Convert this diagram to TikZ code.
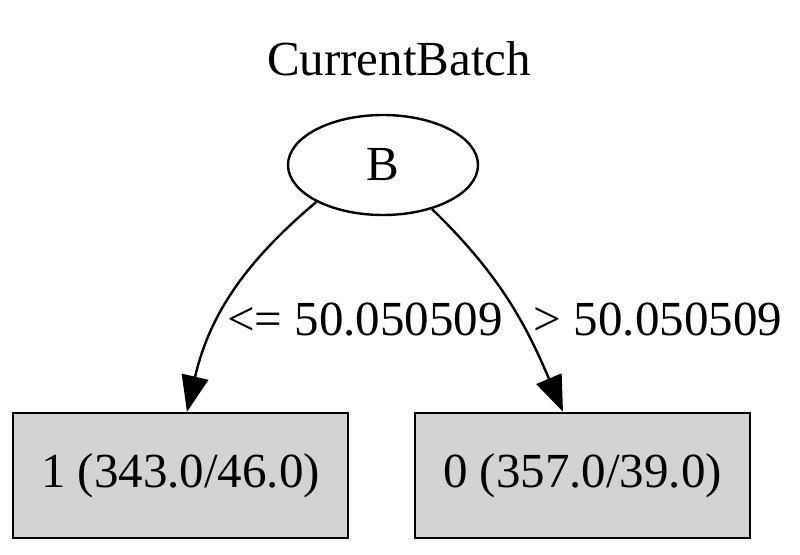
\documentclass[tikz,border=0pt]{standalone}
\usepackage{fontspec}
\setmainfont{Liberation Serif}
\usepackage{xcolor}
\usepackage{tikz}
\usetikzlibrary{shapes,arrows,positioning,calc,arrows.meta}
\definecolor{leafgray}{RGB}{211,211,211}

\begin{document}
\begin{tikzpicture}[x=0.5pt,y=0.5pt,
    treetext/.style={font=\fontsize{24.5}{28}\selectfont},
    splitnode/.style={treetext, draw, line width=1.2pt, ellipse, minimum width=95pt, minimum height=50pt, inner sep=0pt},
    leafnode/.style={treetext, draw, line width=1.2pt, fill=leafgray, rectangle, minimum width=167.5pt, minimum height=62.5pt, inner sep=0pt},
    branch/.style={line width=1.2pt, -{Triangle[length=18pt,width=13.5pt]}}]
    \useasboundingbox (0,0) rectangle (800,554);
    % Title
    \node[treetext, anchor=base] (title) at (399,479) {CurrentBatch};
    % Split and leaves
    \node[splitnode] (B) at (383,389) {B};
    \node[leafnode] (leafL) at (180.5,78.5) {1 (343.0/46.0)};
    \node[leafnode] (leafR) at (582.5,78.5) {0 (357.0/39.0)};
    % Branches
    \draw[branch] (B.209) to[out=220, in=77] ([xshift=3.25pt]leafL.north);
    \draw[branch] (B.318) to[out=-44, in=113] ([xshift=-9.75pt]leafR.north);
    % Branch labels
    \node[treetext, anchor=base] (lblL) at (365,219) {<= 50.050509};
    \node[treetext, anchor=base] (lblR) at (658,219) {> 50.050509};
\end{tikzpicture}
\end{document}
